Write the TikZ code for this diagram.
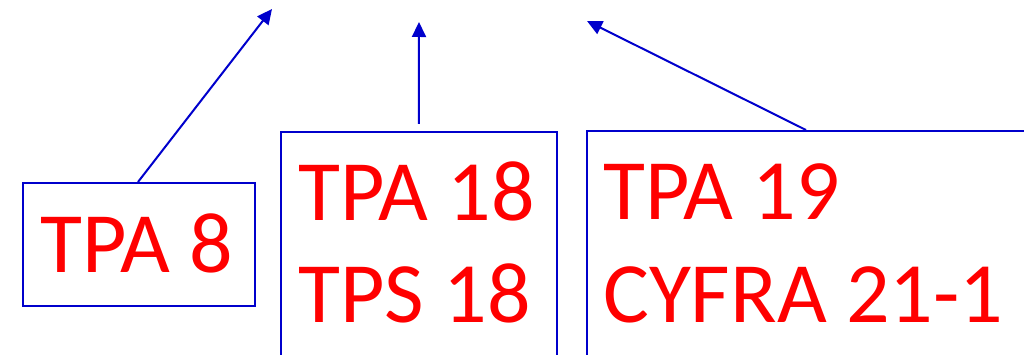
\documentclass[tikz,border=0pt]{standalone}
\usepackage{fontspec}
\setmainfont{Carlito}
\usetikzlibrary{arrows.meta}
\definecolor{lineblue}{RGB}{0,0,204}
\definecolor{markred}{RGB}{255,0,0}
\tikzset{
  markerbox/.style={draw=lineblue, line width=1.6pt, rectangle, inner sep=0pt},
  markertext/.style={text=markred, font=\fontsize{86}{100}\selectfont, inner sep=0pt, anchor=base west},
  pointer/.style={draw=lineblue, line width=2pt, -{Triangle[length=15pt,width=14pt]}}
}
\begin{document}
\begin{tikzpicture}[x=1pt,y=-1pt]
  \useasboundingbox (0,0) rectangle (1024,355);
  \begin{scope}
    \clip (0,0) rectangle (1024,355);
    % marker boxes
    \node[markerbox, minimum width=232pt, minimum height=123pt, anchor=north west] (b1) at (22,182) {};
    \node[markerbox, minimum width=276pt, minimum height=260pt, anchor=north west] (b2) at (280,131) {};
    \node[markerbox, minimum width=480pt, minimum height=260pt, anchor=north west] (b3) at (586,130) {};
    % marker names
    \node[markertext] (t1) at (40,272) {TPA 8};
    \node[markertext] (t2a) at (298,221) {TPA 18};
    \node[markertext] (t2b) at (298,322) {TPS 18};
    \node[markertext] (t3a) at (603,220) {TPA 19};
    \node[markertext] (t3b) at (603,322) {CYFRA 21-1};
    % arrow targets
    \coordinate (p1) at (272,9);
    \coordinate (p2) at (419,22);
    \coordinate (p3) at (587,21);
    % arrows
    \draw[pointer] (b1.north west) ++(116,0) coordinate (s1) (s1) -- (p1);
    \draw[pointer] (b2.north) ++(0,-7) coordinate (s2) (s2) -- (p2);
    \draw[pointer] (b3.north west) ++(220,0) coordinate (s3) (s3) -- (p3);
  \end{scope}
\end{tikzpicture}
\end{document}
